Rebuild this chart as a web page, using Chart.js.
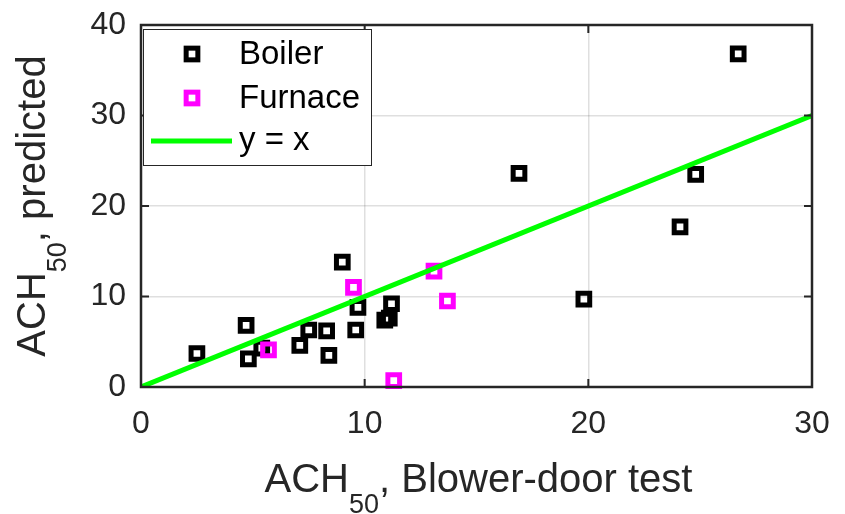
<!DOCTYPE html>
<html>
<head>
<meta charset="utf-8">
<script src="https://cdn.jsdelivr.net/npm/chart.js@4.4.0/dist/chart.umd.min.js"></script>
<style>
html, body { margin: 0; padding: 0; background: #fff; }
canvas { display: block; }
</style>
</head>
<body>
<canvas id="myChart" width="845" height="514"></canvas>
<script>
// data
const boilerX = [2.5, 4.7, 4.8, 5.4, 7.1, 7.5, 8.3, 8.4, 9.0, 9.7, 9.6, 11.2, 10.9, 11.1, 16.9, 19.8, 24.1, 24.8, 26.7];
const boilerY = [3.7, 6.8, 3.1, 4.3, 4.6, 6.3, 6.2, 3.5, 13.8, 8.8, 6.3, 9.2, 7.4, 7.6, 23.6, 9.7, 17.7, 23.5, 36.8];
const furnaceX = [5.7, 9.5, 11.3, 13.1, 13.7];
const furnaceY = [4.1, 11.0, 0.7, 12.8, 9.5];
const lineX = [0, 30];
const lineY = [0, 30];
const xTicks = [0, 10, 20, 30];
const yTicks = [0, 10, 20, 30, 40];

const txtColor = '#262626';
const fontFam = '"Liberation Sans", Arial, Helvetica, sans-serif';
const toPts = (xs, ys) => xs.map((v, i) => ({x: v, y: ys[i]}));

// draws "ACH" + subscript "50" + rest, centred on cx
function achTitle(ctx, rest, cx, baseY) {
    const big = '40px ' + fontFam, sub = '27px ' + fontFam;
    ctx.font = big;
    const w1 = ctx.measureText('ACH').width;
    const w3 = ctx.measureText(rest).width;
    ctx.font = sub;
    const w2 = ctx.measureText('50').width;
    let px = cx - (w1 + w2 + w3) / 2;
    ctx.textAlign = 'left';
    ctx.textBaseline = 'alphabetic';
    ctx.fillStyle = txtColor;
    ctx.font = big; ctx.fillText('ACH', px, baseY); px += w1;
    ctx.font = sub; ctx.fillText('50', px, baseY + 21); px += w2;
    ctx.font = big; ctx.fillText(rest, px, baseY);
}

function square(ctx, x, y, color) {
    ctx.strokeStyle = color;
    ctx.lineWidth = 5;
    ctx.strokeRect(x - 5.85, y - 5.85, 11.7, 11.7);
}

const frame = {
    id: 'frame',
    afterDatasetsDraw(chart) {
        const {ctx, chartArea: a, scales: {x, y}} = chart;
        ctx.save();
        // axes box + inward ticks
        ctx.strokeStyle = txtColor;
        ctx.lineWidth = 2.5;
        ctx.strokeRect(a.left, a.top, a.right - a.left, a.bottom - a.top);
        ctx.lineWidth = 2;
        ctx.beginPath();
        xTicks.forEach(v => {
            const px = x.getPixelForValue(v);
            ctx.moveTo(px, a.bottom); ctx.lineTo(px, a.bottom - 8);
            ctx.moveTo(px, a.top); ctx.lineTo(px, a.top + 8);
        });
        yTicks.forEach(v => {
            const py = y.getPixelForValue(v);
            ctx.moveTo(a.left, py); ctx.lineTo(a.left + 8, py);
            ctx.moveTo(a.right, py); ctx.lineTo(a.right - 8, py);
        });
        ctx.stroke();

        // axis titles
        achTitle(ctx, ', Blower-door test', (a.left + a.right) / 2 + 2, 492);
        ctx.save();
        ctx.translate(45, (a.top + a.bottom) / 2);
        ctx.rotate(-Math.PI / 2);
        achTitle(ctx, ', predicted', 0, 0);
        ctx.restore();

        // legend box
        ctx.fillStyle = '#fff';
        ctx.fillRect(143, 29, 228, 136);
        ctx.strokeStyle = txtColor;
        ctx.lineWidth = 1;
        ctx.strokeRect(143.5, 29.5, 228, 136);
        square(ctx, 192, 54, '#000000');
        square(ctx, 192, 98, '#ff00ff');
        ctx.strokeStyle = '#00ff00';
        ctx.lineWidth = 5;
        ctx.beginPath(); ctx.moveTo(151, 141); ctx.lineTo(232, 141); ctx.stroke();
        ctx.fillStyle = '#000';
        ctx.font = '33px ' + fontFam;
        ctx.textAlign = 'left';
        ctx.textBaseline = 'middle';
        ctx.fillText('Boiler', 239, 55);
        ctx.fillText('Furnace', 239, 99);
        ctx.fillText('y = x', 239, 141);
        ctx.restore();
    }
};

const config = {
    type: 'scatter',
    data: {
        datasets: [{
            label: 'Boiler',
            data: toPts(boilerX, boilerY),
            pointStyle: 'rect',
            pointRadius: 8.27,
            pointHoverRadius: 8.27,
            borderColor: '#000000',
            backgroundColor: 'rgba(0,0,0,0)',
            borderWidth: 5,
            order: 2,
            clip: false
        }, {
            label: 'Furnace',
            data: toPts(furnaceX, furnaceY),
            pointStyle: 'rect',
            pointRadius: 8.27,
            pointHoverRadius: 8.27,
            borderColor: '#ff00ff',
            backgroundColor: 'rgba(0,0,0,0)',
            borderWidth: 5,
            order: 1,
            clip: false
        }, {
            type: 'line',
            label: 'y = x',
            data: toPts(lineX, lineY),
            borderColor: '#00ff00',
            borderWidth: 5,
            pointRadius: 0,
            fill: false,
            order: 0
        }]
    },
    options: {
        responsive: false,
        animation: false,
        devicePixelRatio: 1,
        layout: {padding: {left: 0, right: 33, top: 25, bottom: 0}},
        plugins: {legend: {display: false}, tooltip: {enabled: false}},
        scales: {
            x: {
                type: 'linear', min: 0, max: 30,
                afterBuildTicks: s => { s.ticks = xTicks.map(v => ({value: v})); },
                afterFit: s => { s.height = 127; s.paddingLeft = 0; s.paddingRight = 0; },
                grid: {color: 'rgba(38,38,38,0.15)', lineWidth: 1.5, drawTicks: false},
                border: {display: false},
                ticks: {color: txtColor, font: {size: 32, family: fontFam}, padding: 18, maxRotation: 0}
            },
            y: {
                type: 'linear', min: 0, max: 40,
                afterBuildTicks: s => { s.ticks = yTicks.map(v => ({value: v})); },
                afterFit: s => { s.width = 141; s.paddingTop = 0; s.paddingBottom = 0; },
                grid: {color: 'rgba(38,38,38,0.15)', lineWidth: 1.5, drawTicks: false},
                border: {display: false},
                ticks: {color: txtColor, font: {size: 32, family: fontFam}, padding: 15}
            }
        }
    },
    plugins: [frame]
};

const myChart = new Chart(document.getElementById('myChart').getContext('2d'), config);
</script>
</body>
</html>
